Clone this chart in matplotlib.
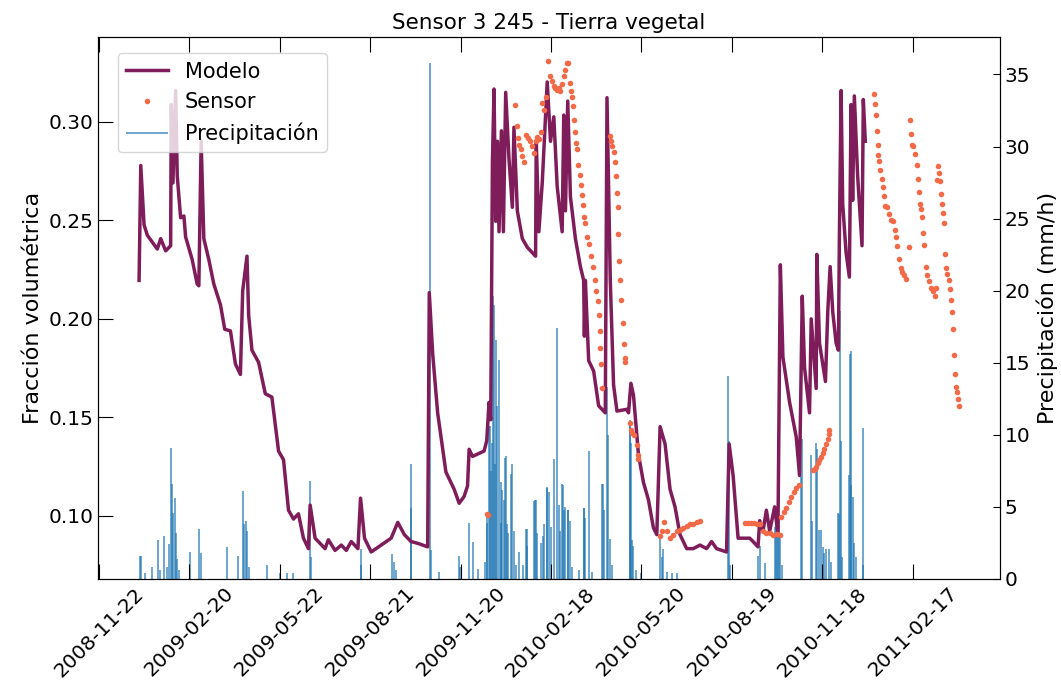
import numpy as np
import matplotlib
matplotlib.use('Agg')
import matplotlib.pyplot as plt
import matplotlib.dates as mdates

# Día 0 = 2009-01-01
fecha_inicio = '2009-01-01'

# Modelo (fracción volumétrica)
dias_modelo = [0, 1.7, 5, 8.3, 13.3, 18.3, 21.7, 26.7, 31.7, 32.3, 34, 36.7, 38.3, 41.7, 45, 46.7,
               53.3, 58.3, 60, 62.3, 65, 70, 75, 81.7, 86, 91.7, 96.7, 101.7, 104, 108.3, 110, 113.3,
               120, 126.7, 133.3, 140, 145, 150, 155, 160, 165, 170, 171.7, 176.7, 186.7, 190, 196.7,
               203, 208, 213, 219.7, 222.3, 226.3, 233, 243, 253, 259.7, 266.3, 273, 279.7, 289.7,
               291.3, 294.7, 299.7, 308, 316.3, 321.3, 326.3, 329.7, 331.3, 334.7, 346.3, 349, 351.3,
               353, 354.7, 356.3, 358, 359.7, 361.3, 363.7, 365.7, 368, 371.3, 374.7, 376.3, 379.7,
               384.7, 389.7, 398, 398.7, 401.3, 404.7, 409.7, 413, 416.3, 419.7, 424.7, 426.3, 428,
               430.3, 433, 438, 443, 446.3, 447, 448, 451.3, 456.3, 461.3, 466.3, 468, 469.7, 473,
               476.3, 479.7, 489.7, 491.3, 493.7, 496.3, 501.3, 506.3, 511.3, 516.3, 519.7, 523, 528,
               533, 538, 543, 549.7, 556.3, 563, 569.7, 574.7, 579.7, 589.7, 592.3, 596.3, 601.3,
               604.7, 613, 616.3, 621.3, 623, 626.3, 629.7, 633, 638, 641.3, 643.7, 646.3, 653, 659.7,
               663, 665.7, 668, 673, 674.7, 679.7, 680.3, 683, 689, 691.3, 693.7, 696.3, 699.7, 702,
               703, 704.7, 706.3, 709.7, 713, 714.7, 716.3, 718, 721.3, 725.7, 727, 729]
modelo = [0.2195, 0.2778, 0.2477, 0.2424, 0.2389, 0.2354, 0.2407, 0.2345, 0.2371, 0.3087, 0.269,
          0.3158, 0.2725, 0.2513, 0.2522, 0.2416, 0.2301, 0.2177, 0.2168, 0.2901, 0.2407, 0.2301,
          0.2177, 0.2071, 0.1947, 0.1939, 0.1771, 0.1718, 0.2142, 0.2318, 0.2018, 0.1841, 0.1779,
          0.162, 0.1603, 0.1329, 0.1285, 0.1029, 0.0984, 0.1011, 0.0887, 0.0834, 0.1055, 0.0887,
          0.0834, 0.0879, 0.0825, 0.0852, 0.0825, 0.0870, 0.0834, 0.109, 0.0887, 0.0817, 0.0852,
          0.0887, 0.0967, 0.0905, 0.0870, 0.0861, 0.0843, 0.2133, 0.1824, 0.1523, 0.1223, 0.1135,
          0.1064, 0.1099, 0.1152, 0.1338, 0.1302, 0.1329, 0.1382, 0.1576, 0.1488, 0.2795, 0.3166,
          0.2495, 0.2901, 0.2442, 0.2954, 0.2442, 0.3149, 0.2813, 0.2566, 0.2972, 0.2548, 0.2407,
          0.2363, 0.2318, 0.2901, 0.2442, 0.269, 0.3202, 0.2901, 0.3025, 0.2672, 0.2442, 0.3034,
          0.2548, 0.3105, 0.2619, 0.2407, 0.2265, 0.2195, 0.1912, 0.2195, 0.1788, 0.1735, 0.1559,
          0.1532, 0.1523, 0.3122, 0.2195, 0.1665, 0.1532, 0.1541, 0.1523, 0.1673, 0.1612, 0.1311,
          0.117, 0.1082, 0.0940, 0.0905, 0.1453, 0.1365, 0.1135, 0.1046, 0.0905, 0.0834, 0.0834,
          0.0852, 0.0834, 0.087, 0.0834, 0.0817, 0.1365, 0.1205, 0.0887, 0.0887, 0.0887, 0.087,
          0.0843, 0.0976, 0.0923, 0.1029, 0.0923, 0.1046, 0.0905, 0.2274, 0.1806, 0.1576, 0.1400,
          0.1205, 0.2115, 0.1753, 0.1523, 0.2000, 0.1647, 0.2327, 0.1877, 0.1682, 0.2036, 0.2265,
          0.2036, 0.1877, 0.1841, 0.2424, 0.3158, 0.2583, 0.2336, 0.2212, 0.3087, 0.2601, 0.3131,
          0.2725, 0.2371, 0.3113, 0.2901]

# Sensor (fracción volumétrica)
dias_sensor = [349, 350.5,
               377, 379.7, 380.5, 381.3, 383, 384.7, 386.3, 388, 390.3, 392.3, 394.7, 396.3, 398,
               399.7, 401.3, 403, 404.7, 406.3, 408, 410.3, 412.3, 414.7, 416.3, 418, 419.7, 421.3,
               423, 424.7, 426.3, 428, 429.7, 431, 432.3, 433.7, 434.7, 435.7, 436.3, 437.3, 438.7,
               439.7, 440.7, 442.3, 443.7, 444.7, 445.7, 447, 448, 449.7, 451.3, 453.7, 455.7, 457.3,
               459, 460.3, 461.3, 462.3, 463, 463.7, 464.7,
               472.3, 473.7, 474.7, 476.3, 478, 479, 479.7, 480.3, 481, 482, 483, 484, 485.3, 486.3,
               487.3, 488,
               492.3, 493.7, 495.3, 497.3, 499.7, 500.7, 501.3,
               523, 524.7, 527, 529.7, 533, 536.3, 539.7, 543, 546.3, 549.7, 553, 556.3, 559.7, 563,
               608, 611, 614, 617, 620, 623, 626.3, 629.7, 633, 636.3, 640, 643, 644.7, 647,
               649.7, 652, 654.7, 657, 659.7, 662.3,
               676.3, 678, 679.7, 681.3, 683, 684.7, 686.3, 688, 689.7, 691.3, 692.3, 693,
               737.3, 738.7, 739.7, 740.3, 741.3, 742, 743, 744, 745.3, 746.3, 747.7, 749, 750.3,
               752.3, 754.7, 757, 759, 760.3, 761.3, 763, 764.7, 766.3, 768, 770.3, 773,
               774, 775.3, 776.3, 777.3, 779, 780.7, 782, 783, 784, 785.3, 786.3, 787.3, 788, 789.7,
               791.3, 793, 794.7, 797, 798.7, 799.7,
               801.3, 802, 803, 803.7, 805.3, 806.3, 807, 808, 809, 810.3, 811.3, 813, 813.7, 815.3,
               816.3, 817, 818, 819, 820, 821.3, 822, 823]
sensor = [0.101, 0.1005,
          0.3086, 0.2976, 0.292, 0.2883, 0.286, 0.2825, 0.2798, 0.2934, 0.292, 0.29, 0.2875, 0.2841,
          0.290, 0.2925, 0.2915, 0.295, 0.3095, 0.306, 0.3128, 0.3306, 0.323, 0.3205, 0.318, 0.3172,
          0.316, 0.3172, 0.3154, 0.319, 0.323, 0.3264, 0.3298, 0.33, 0.3196, 0.3154, 0.3128, 0.3078,
          0.301, 0.295, 0.2892, 0.286, 0.2782, 0.2731, 0.268, 0.263, 0.2579, 0.2519, 0.2486, 0.2416,
          0.238, 0.2318, 0.2265, 0.2195, 0.2142, 0.2089, 0.2018, 0.1938, 0.185, 0.177, 0.165,
          0.2928, 0.2901, 0.2875, 0.2848, 0.2795, 0.2725, 0.2637, 0.2566, 0.2433, 0.2292, 0.2198,
          0.2096, 0.1981, 0.1872, 0.18, 0.178,
          0.1474, 0.1437, 0.142, 0.1411, 0.136, 0.131, 0.1288,
          0.0896, 0.0923, 0.0967, 0.0923, 0.0887, 0.0905, 0.0923, 0.0931, 0.094, 0.0949, 0.0958,
          0.0958, 0.0967, 0.0976,
          0.0963, 0.0963, 0.0963, 0.0963, 0.0958, 0.0958, 0.0923, 0.0912, 0.0914, 0.0905, 0.0908,
          0.0904, 0.0997, 0.1018, 0.104, 0.107, 0.1098, 0.112, 0.1141, 0.1157,
          0.1232, 0.124, 0.125, 0.127, 0.1285, 0.130, 0.132, 0.1338, 0.1364, 0.1391, 0.1415, 0.1437,
          0.3140, 0.3090, 0.3034, 0.2954, 0.2884, 0.2831, 0.2799, 0.2757, 0.2712, 0.2668, 0.2624,
          0.2575, 0.2566, 0.253, 0.2504, 0.2495, 0.2451, 0.2416, 0.2371, 0.2306, 0.2256, 0.2239,
          0.2221, 0.2204, 0.2366,
          0.3011, 0.2937, 0.2884, 0.2878, 0.2836, 0.2781, 0.2712, 0.2642, 0.2583, 0.2557, 0.2516,
          0.2437, 0.2377, 0.2265, 0.2221, 0.2191, 0.2159, 0.2142, 0.2115, 0.2159,
          0.2707, 0.2778, 0.2742, 0.2698, 0.2633, 0.2583, 0.2539, 0.2486, 0.2327, 0.226, 0.223,
          0.2195, 0.2151, 0.2098, 0.2036, 0.1947, 0.1815, 0.1721, 0.1656, 0.1629, 0.1594, 0.1559]

# Precipitación (mm/h)
dias_lluvia = [0.7, 2.3, 6, 12.5, 18.7, 21, 25.2, 28, 30.2, 31.8, 32.8, 34, 35.8, 37, 38.3, 40,
               50.7, 60.2, 61.8, 88.2, 99.5, 104, 105.7, 107.3, 108.3, 110, 128.3, 141, 148, 155,
               171.7, 172.5, 222.3, 223, 254.3, 255.5, 258, 272.5, 273.2, 292.3, 293, 301.5, 321.3,
               322.5, 331.3, 335, 340.3, 347, 349, 349.7, 351.3, 352.3, 353, 354.7, 355.7, 356.3, 357,
               358, 359.7, 361.3, 363, 363.7, 364.7, 366.3, 367, 368, 369.7, 370.3, 373, 374.7, 376.3,
               378, 381.3, 385, 388, 389, 389.7, 396.3, 397.3, 398, 399.7, 403, 405.7, 406.3, 409,
               409.7, 411.3, 413, 416.3, 419.7, 421.3, 422.5, 424.7, 425.3, 426.3, 428, 430.3, 430.7,
               432.3, 435, 441.3, 446.3, 447, 448, 451.3, 455, 464.7, 465.7, 466.3, 469.7, 470.5, 473,
               474.5, 492.3, 493, 493.7, 494.7, 496.3, 499, 504, 523, 524.5, 526.3, 530, 535, 540,
               591.3, 592.3, 593.5, 621.3, 623, 628, 638, 639.7, 640.3, 641.3, 642.3, 643, 645,
               664.7, 665.7, 674.7, 675.7, 679.5, 680.3, 682.3, 684.7, 686.3, 688, 689.7, 693, 694.5,
               701.3, 702.3, 703.7, 704.7, 706, 713, 714, 714.7, 715, 716.3, 718, 720, 726.3, 727]
lluvia = [1.6, 1.6, 0.4, 0.8, 2.7, 0.6, 3.0, 0.8, 2.4, 9.1, 6.6, 4.6, 5.6, 3.2, 1.4, 0.6,
          1.9, 3.5, 1.8, 2.2, 1.6, 6.1, 3.8, 4.0, 3.3, 0.8, 1.0, 0.4, 0.4, 0.4,
          6.8, 1.5, 2.1, 1.0, 1.7, 1.2, 0.6, 8.0, 4.9, 35.8, 2.0, 0.5, 1.6,
          0.8, 3.9, 2.6, 0.7, 1.2, 4.3, 3.9, 10.6, 10.6, 7.5, 9.4, 19.6, 19.0, 8.0,
          16.6, 12.0, 15.2, 6.7, 3.9, 6.2, 5.5, 8.4, 8.5, 3.8, 3.2, 7.3, 8.0, 3.3,
          1.0, 1.9, 1.0, 3.5, 3.5, 2.3, 5.4, 5.5, 5.5, 3.2, 2.5, 3.0, 3.8, 6.3,
          6.4, 6.0, 3.6, 8.3, 17.4, 5.1, 3.3, 6.6, 6.5, 4.8, 5.0, 4.8, 4.8,
          4.0, 0.8, 0.6, 4.9, 4.9, 4.2, 8.9, 0.5, 6.6, 6.6, 4.8, 13.3, 10.0, 2.8,
          1.0, 10.6, 11.0, 9.4, 2.7, 2.3, 0.6, 0.4, 2.8, 1.5, 2.1, 0.5, 0.4, 0.4,
          14.1, 9.6, 1.0, 1.6, 2.3, 1.1, 3.6, 3.7, 3.0, 4.8, 4.1, 3.0, 1.0,
          7.1, 9.7, 8.6, 4.0, 9.4, 9.0, 3.4, 3.4, 2.2, 1.8, 2.1, 2.1, 1.2,
          4.6, 4.5, 18.6, 9.6, 1.5, 7.2, 15.6, 15.8, 6.5, 5.7, 2.5, 1.5, 10.5, 1.0]

fechas_ticks = ['2008-11-22', '2009-02-20', '2009-05-22', '2009-08-21', '2009-11-20',
                '2010-02-18', '2010-05-20', '2010-08-19', '2010-11-18', '2011-02-17']

t0 = mdates.datestr2num(fecha_inicio)
x_modelo = t0 + np.array(dias_modelo)
x_sensor = t0 + np.array(dias_sensor)
x_lluvia = t0 + np.array(dias_lluvia)

color_modelo = '#7f1d5b'
color_sensor = '#f26a47'
color_lluvia = '#1f77b4'

fig = plt.figure(figsize=(10.61, 6.83), dpi=100)
ax = fig.add_axes([0.0924, 0.1523, 0.8501, 0.7935])
ax2 = ax.twinx()

# Precipitación en el eje derecho, detrás
ax2.vlines(x_lluvia, 0, lluvia, color=color_lluvia, alpha=0.7, lw=1.3, label='Precipitación')
ax2.set_ylim(0, 37.6)
ax2.set_ylabel('Precipitación (mm/h)', fontsize=16)
ax2.tick_params(axis='y', direction='in', length=5, labelsize=14.5)

ax.set_zorder(ax2.get_zorder() + 1)
ax.patch.set_visible(False)

l1, = ax.plot(x_modelo, modelo, color=color_modelo, lw=2.5, label='Modelo')
l2, = ax.plot(x_sensor, sensor, 'o', color=color_sensor, ms=4, mew=0, label='Sensor')

ax.set_xlim(t0 - 41.2, t0 + 864.2)
ax.set_ylim(0.068, 0.343)
ax.set_yticks([0.10, 0.15, 0.20, 0.25, 0.30])
ax.set_ylabel('Fracción volumétrica', fontsize=16)
ax.set_title('Sensor 3 245 - Tierra vegetal', fontsize=15.5)

ax.set_xticks(mdates.datestr2num(fechas_ticks))
ax.xaxis.set_major_formatter(mdates.DateFormatter('%Y-%m-%d'))
ax.tick_params(axis='x', direction='in', length=11, top=True, labelrotation=45, labelsize=14.5)
ax.tick_params(axis='y', direction='in', length=11, labelsize=14.5)

h2, lab2 = ax2.get_legend_handles_labels()
ax.legend([l1, l2] + h2, ['Modelo', 'Sensor'] + lab2, loc='upper left',
          bbox_to_anchor=(0.022, 0.97), borderaxespad=0, fontsize=15)

plt.savefig('out.png', dpi=100)
